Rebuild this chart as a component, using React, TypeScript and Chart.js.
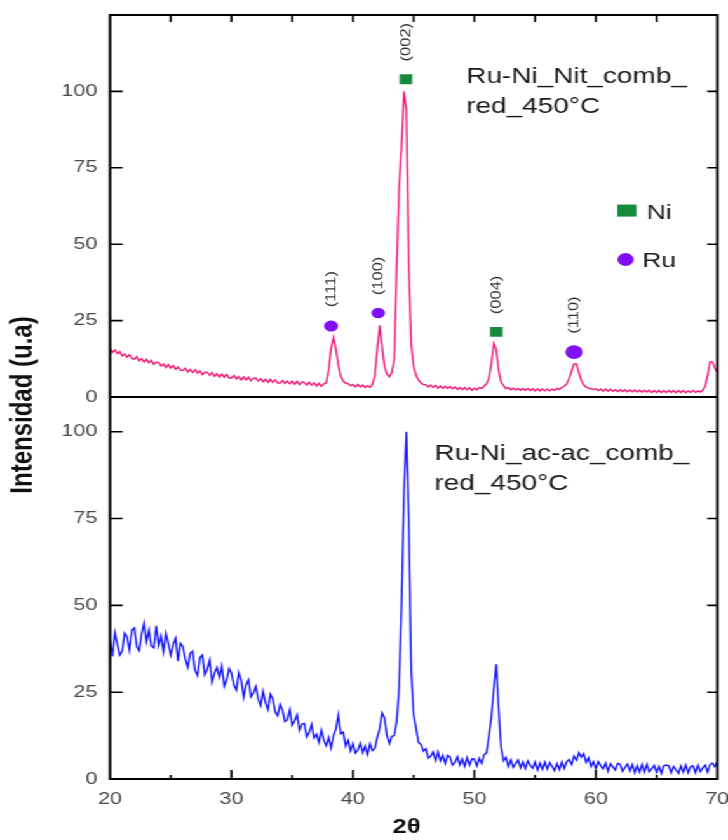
import React, { useEffect, useRef } from 'react';
import { Chart, registerables } from 'chart.js';

Chart.register(...registerables);

const W = 573;
const H = 840;
const STRETCH = 728 / W;

const twoThetaStart = 20;
const twoThetaStep = 0.2;

const pinkY = [
  15.9, 14.6, 15.4, 14.2, 14.8, 13.4, 14.1, 13.0, 13.8, 12.6,
  12.4, 13.2, 11.9, 12.6, 11.4, 12.3, 11.2, 12.0, 10.7, 11.4,
  11.3, 10.1, 10.8, 9.6, 10.6, 9.5, 10.3, 9.1, 9.8, 8.7,
  8.7, 9.4, 8.2, 9.0, 8.0, 8.9, 7.8, 8.5, 7.3, 8.1,
  8.1, 7.1, 8.0, 6.8, 7.6, 6.5, 7.5, 6.5, 7.4, 6.2,
  6.2, 7.0, 5.9, 6.7, 5.6, 6.6, 5.6, 6.5, 5.3, 6.1,
  6.2, 5.2, 6.0, 5.0, 5.8, 4.8, 5.8, 4.8, 5.6, 4.6,
  4.6, 5.4, 4.4, 5.2, 4.3, 5.2, 4.2, 5.1, 4.0, 4.9,
  4.8, 3.9, 4.8, 3.9, 4.7, 3.6, 4.5, 3.5, 4.3, 4.6,
  9.0, 16.0, 19.5, 15.5, 10.5, 6.8, 5.2, 4.5, 4.4, 3.7,
  4.1, 3.3, 4.1, 3.3, 3.9, 3.1, 3.7, 3.2, 4.0, 7.0,
  15.5, 23.5, 16.5, 10.0, 7.5, 6.6, 8.0, 12.0, 42.0, 68.0,
  82.0, 100.0, 94.0, 42.0, 17.0, 10.0, 7.0, 5.5, 4.6, 4.1,
  4.0, 3.2, 3.9, 3.2, 3.8, 2.9, 3.6, 2.8, 3.5, 2.8,
  3.4, 2.7, 3.3, 2.5, 3.1, 2.4, 3.1, 2.4, 3.1, 2.2,
  2.9, 2.4, 3.1, 2.8, 3.6, 4.3, 6.2, 11.0, 17.5, 15.5,
  8.5, 4.8, 3.8, 2.7, 3.1, 2.4, 2.9, 2.3, 2.8, 2.2,
  2.8, 2.2, 2.8, 2.1, 2.7, 2.0, 2.7, 2.0, 2.6, 2.0,
  2.6, 2.0, 2.6, 2.2, 2.8, 2.5, 3.2, 3.5, 4.3, 6.0,
  8.5, 10.8, 10.8, 8.0, 5.5, 4.0, 3.2, 2.9, 2.7, 2.5,
  2.7, 2.1, 2.6, 1.9, 2.6, 1.9, 2.6, 1.9, 2.4, 1.8,
  2.4, 1.8, 2.4, 1.7, 2.3, 1.7, 2.3, 1.6, 2.2, 1.6,
  2.2, 1.6, 2.2, 1.5, 2.1, 1.5, 2.1, 1.5, 2.1, 1.5,
  2.1, 1.5, 2.1, 1.4, 2.1, 1.5, 2.1, 1.4, 2.0, 1.5,
  2.1, 1.5, 2.0, 1.6, 2.2, 3.5, 7.0, 11.5, 11.5, 9.5,
  8.0,
];

const blueY = [
  40.0, 35.3, 42.1, 38.9, 35.7, 36.8, 42.0, 41.0, 37.1, 42.9,
  43.5, 38.1, 37.0, 41.7, 44.9, 39.5, 42.9, 38.3, 37.8, 44.1,
  38.4, 41.2, 36.6, 42.0, 39.0, 35.7, 38.8, 40.5, 33.9, 39.1,
  38.1, 34.5, 32.1, 36.2, 36.8, 31.2, 29.8, 34.9, 35.7, 30.0,
  31.5, 34.2, 27.9, 30.5, 32.1, 29.3, 32.5, 26.7, 28.5, 31.8,
  30.5, 27.0, 25.6, 30.7, 28.4, 23.5, 27.1, 28.6, 23.7, 24.8,
  26.6, 23.0, 21.2, 25.3, 22.0, 19.9, 24.4, 23.1, 19.3, 18.2,
  21.5, 19.8, 16.5, 17.0, 20.0, 15.5, 16.8, 18.5, 14.0, 15.8,
  16.0, 12.1, 13.5, 15.7, 11.8, 12.9, 10.5, 14.1, 11.2, 9.6,
  12.0, 9.0, 12.5, 14.5, 18.5, 13.0, 13.5, 9.5, 11.2, 8.1,
  10.2, 7.5, 8.3, 10.3, 7.6, 9.5, 7.0, 10.1, 8.2, 8.8,
  12.0, 14.5, 19.0, 17.5, 12.5, 10.2, 12.3, 12.5, 16.5, 26.0,
  50.0, 82.0, 100.0, 74.0, 31.0, 18.5, 14.5, 10.5, 10.0, 8.0,
  8.7, 6.0, 6.6, 7.8, 5.3, 7.8, 5.2, 6.8, 4.5, 6.8,
  6.3, 4.0, 4.8, 6.4, 4.0, 5.8, 3.6, 6.1, 4.0, 5.8,
  5.7, 3.8, 6.0, 4.5, 7.0, 7.5, 12.5, 18.0, 26.0, 33.0,
  20.0, 9.0, 5.2, 6.2, 3.6, 5.5, 3.4, 4.5, 5.5, 3.2,
  4.9, 3.0, 5.2, 3.9, 3.1, 4.9, 2.6, 4.6, 2.8, 4.9,
  2.9, 4.7, 3.6, 2.4, 4.4, 2.7, 4.9, 3.0, 5.0, 5.6,
  4.2, 6.6, 5.4, 7.6, 6.3, 7.3, 4.8, 6.1, 3.6, 5.0,
  2.9, 5.0, 3.8, 2.9, 4.6, 2.3, 4.4, 3.5, 2.6, 4.5,
  4.2, 2.2, 3.3, 4.3, 2.3, 4.1, 1.8, 3.8, 2.0, 4.2,
  2.0, 4.2, 2.1, 3.0, 3.9, 1.9, 3.6, 1.6, 3.8, 4.0,
  3.8, 1.8, 3.6, 2.6, 1.6, 3.8, 2.0, 4.0, 1.8, 3.6,
  3.8, 1.8, 4.0, 2.1, 3.2, 4.0, 2.0, 4.1, 4.6, 3.5,
  5.0,
];

const niPeakX = [44.36, 51.8];
const niPeakY = [104, 21.3];
const niPeakHkl = ['(002)', '(004)'];
const ruPeakX = [38.2, 42.08, 58.2];
const ruPeakY = [23.2, 27.5, 14.7];
const ruPeakHkl = ['(111)', '(100)', '(110)'];
const ruPeakSize = [5.5, 5.3, 6.8];

const legendX = 62.55;
const legendNiY = 61;
const legendRuY = 45;

const xTickLabels = [20, 30, 40, 50, 60, 70];
const xMajorMarks = [30, 40, 50, 60];
const xMinorMarks = [25, 35, 45, 55, 65];
const xTopMarks = [25, 30, 35, 40, 45, 50, 55, 60, 65];
const yTickLabels = [0, 25, 50, 75, 100];
const yInnerMarks = [25, 50, 75, 100];

const PINK = '#f2197a';
const BLUE = '#1414ff';
const PURPLE = '#7f10f5';
const GREEN = '#168a3c';
const AXIS = '#000000';
const FONT = '"Liberation Sans", Arial, sans-serif';

const toPoints = (ys: number[]) =>
  ys.map((y, i) => ({ x: Math.round((twoThetaStart + i * twoThetaStep) * 10) / 10, y }));

function drawAll(chart: any) {
  const ctx = chart.ctx as CanvasRenderingContext2D;
  const x = chart.scales.x;
  const yT = chart.scales.yTop;
  const yB = chart.scales.yBot;
  const L = x.getPixelForValue(20);
  const R = x.getPixelForValue(70);
  const T = yT.getPixelForValue(125);
  const M = yT.getPixelForValue(0);
  const B = yB.getPixelForValue(0);
  ctx.save();

  // frame and inward ticks
  ctx.strokeStyle = AXIS;
  ctx.lineWidth = 2;
  ctx.lineCap = 'square';
  ctx.beginPath();
  ctx.moveTo(L, T);
  ctx.lineTo(R, T);
  ctx.lineTo(R, B);
  ctx.lineTo(L, B);
  ctx.closePath();
  ctx.moveTo(L, M);
  ctx.lineTo(R, M);
  ctx.stroke();
  ctx.lineWidth = 1.6;
  ctx.lineCap = 'butt';
  ctx.beginPath();
  for (const ys of [yT, yB]) {
    for (const v of yInnerMarks) {
      const py = ys.getPixelForValue(v);
      ctx.moveTo(L, py);
      ctx.lineTo(L + 10, py);
      ctx.moveTo(R, py);
      ctx.lineTo(R - 8, py);
    }
  }
  for (const v of xTopMarks) {
    const px = x.getPixelForValue(v);
    ctx.moveTo(px, T);
    ctx.lineTo(px, T + 7);
  }
  for (const v of xMajorMarks) {
    const px = x.getPixelForValue(v);
    ctx.moveTo(px, B);
    ctx.lineTo(px, B - 9);
  }
  for (const v of xMinorMarks) {
    const px = x.getPixelForValue(v);
    ctx.moveTo(px, B);
    ctx.lineTo(px, B - 4);
  }
  ctx.stroke();

  // sample names
  ctx.fillStyle = '#1a1a1a';
  ctx.font = `22px ${FONT}`;
  ctx.textAlign = 'left';
  ctx.textBaseline = 'alphabetic';
  ctx.fillText('Ru-Ni_Nit_comb_', 367, 83);
  ctx.fillText('red_450°C', 367, 113);
  ctx.fillText('Ru-Ni_ac-ac_comb_', 342, 460);
  ctx.fillText('red_450°C', 342, 490);

  // legend
  const lx = x.getPixelForValue(legendX);
  const lyNi = yT.getPixelForValue(legendNiY);
  const lyRu = yT.getPixelForValue(legendRuY);
  ctx.fillStyle = GREEN;
  ctx.fillRect(lx - 7.5, lyNi - 6, 15, 12);
  ctx.fillStyle = PURPLE;
  ctx.beginPath();
  ctx.arc(lx - 1, lyRu, 6.4, 0, Math.PI * 2);
  ctx.fill();
  ctx.fillStyle = '#1a1a1a';
  ctx.font = `21px ${FONT}`;
  ctx.fillText('Ni', lx + 15.5, lyNi + 8);
  ctx.fillText('Ru', lx + 12, lyRu + 8);

  // hkl labels
  ctx.fillStyle = '#333333';
  ctx.font = `11px ${FONT}`;
  ctx.textAlign = 'center';
  ctx.textBaseline = 'middle';
  const hkl = (mx: number, my: number, s: string) => {
    const px = x.getPixelForValue(mx);
    const py = yT.getPixelForValue(my) - 37;
    ctx.save();
    ctx.translate(px, py);
    ctx.rotate(-Math.PI / 2);
    ctx.scale(1.5, 1.05);
    ctx.fillText(s, 0, 0);
    ctx.restore();
  };
  niPeakX.forEach((mx, i) => hkl(mx, niPeakY[i], niPeakHkl[i]));
  ruPeakX.forEach((mx, i) => hkl(mx, ruPeakY[i], ruPeakHkl[i]));

  // axis titles
  ctx.fillStyle = '#111111';
  ctx.font = `bold 24px ${FONT}`;
  ctx.save();
  ctx.translate(18, (T + B) / 2 + 8);
  ctx.rotate(-Math.PI / 2);
  ctx.fillText('Intensidad (u.a)', 0, 0);
  ctx.restore();
  ctx.font = `bold 20px ${FONT}`;
  ctx.fillText('2θ', 320, 827);
  ctx.restore();
}

const decor = {
  id: 'decor',
  afterDraw(chart: any) {
    drawAll(chart);
  },
};

export default function App() {
  const ref = useRef<HTMLCanvasElement>(null);
  useEffect(() => {
    const canvas = ref.current;
    if (!canvas) return;
    const tickFont = { family: FONT, size: 17 };
    const yCommon = (max: number) => ({
      type: 'linear',
      min: 0,
      max,
      position: 'left',
      stack: 'panels',
      stackWeight: 1,
      grid: { display: false, drawTicks: false },
      border: { display: false },
      ticks: { padding: 10, font: tickFont, color: '#4a4a4a' },
      afterBuildTicks: (s: any) => {
        s.ticks = yTickLabels.map((v) => ({ value: v }));
      },
      afterFit: (s: any) => {
        s.width = 86.6;
        s.paddingTop = 0;
        s.paddingBottom = 0;
      },
    });
    const chart = new Chart(canvas, {
      type: 'line',
      data: {
        datasets: [
          {
            type: 'scatter',
            label: 'Ni',
            data: niPeakX.map((v, i) => ({ x: v, y: niPeakY[i] })),
            yAxisID: 'yTop',
            pointStyle: 'rect',
            pointRadius: 7,
            backgroundColor: GREEN,
            borderWidth: 0,
          },
          {
            type: 'scatter',
            label: 'Ru',
            data: ruPeakX.map((v, i) => ({ x: v, y: ruPeakY[i] })),
            yAxisID: 'yTop',
            pointStyle: 'circle',
            pointRadius: ruPeakSize,
            backgroundColor: PURPLE,
            borderWidth: 0,
          },
          {
            label: 'Ru-Ni_Nit_comb_red_450°C',
            data: toPoints(pinkY),
            yAxisID: 'yTop',
            borderColor: PINK,
            borderWidth: 1.4,
            pointRadius: 0,
            tension: 0,
            fill: false,
          },
          {
            label: 'Ru-Ni_ac-ac_comb_red_450°C',
            data: toPoints(blueY),
            yAxisID: 'yBot',
            borderColor: BLUE,
            borderWidth: 1.4,
            pointRadius: 0,
            tension: 0,
            fill: false,
          },
        ],
      },
      options: {
        responsive: false,
        animation: false,
        devicePixelRatio: 1,
        layout: { padding: { left: 0, top: 15, right: 8.4, bottom: 0 } },
        plugins: { legend: { display: false }, tooltip: { enabled: false }, title: { display: false } },
        scales: {
          x: {
            type: 'linear',
            min: 20,
            max: 70,
            grid: { display: false, drawTicks: false },
            border: { display: false },
            ticks: { padding: 10, font: tickFont, color: '#4a4a4a', maxRotation: 0, autoSkip: false },
            afterBuildTicks: (s: any) => {
              s.ticks = xTickLabels.map((v) => ({ value: v }));
            },
            afterFit: (s: any) => {
              s.height = 61;
              s.paddingLeft = 0;
              s.paddingRight = 0;
            },
          },
          yBot: yCommon(110),
          yTop: yCommon(125),
        },
      } as any,
      plugins: [decor],
    } as any);
    return () => chart.destroy();
  }, []);
  return (
    <div
      style={{
        position: 'absolute',
        left: 0,
        top: 0,
        width: W,
        height: H,
        background: '#fff',
        transform: `scaleX(${STRETCH})`,
        transformOrigin: '0 0',
      }}
    >
      <canvas ref={ref} width={W} height={H} style={{ display: 'block', width: W, height: H }} />
    </div>
  );
}
